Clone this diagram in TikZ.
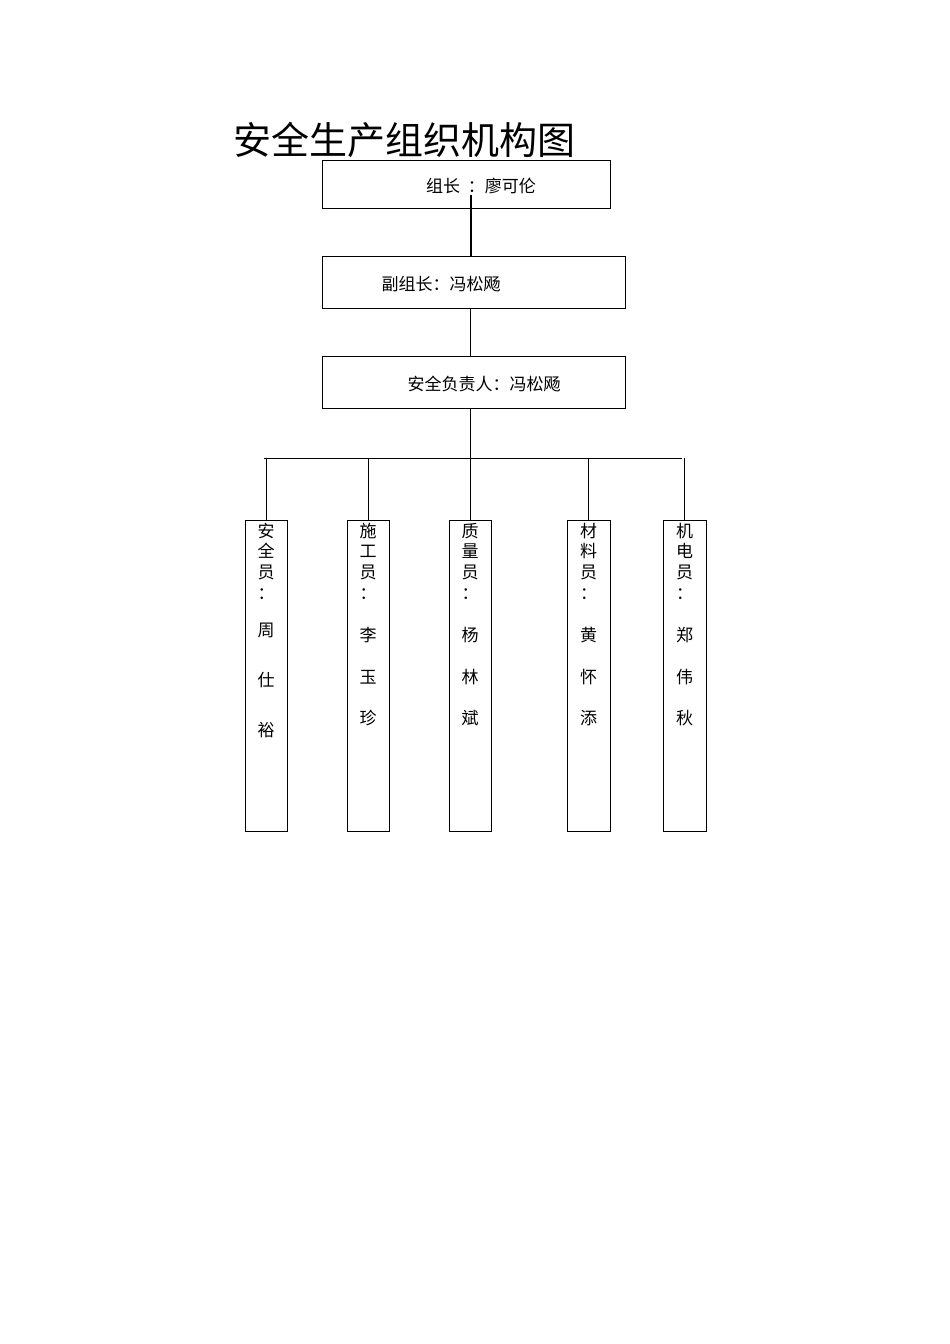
\documentclass[tikz,border=0pt]{standalone}
\usepackage{fontspec}
\newfontfamily\cjk{Noto Sans CJK SC}
\tikzset{box/.style={draw,line width=1pt,inner sep=0pt},
 vtxt/.style={font=\cjk\fontsize{17}{17}\selectfont,inner sep=0pt},
 ln/.style={line width=0.8pt}}
\begin{document}
\begin{tikzpicture}[x=1pt,y=-1pt]
\useasboundingbox (0,0) rectangle (950,1344);
\node[font=\cjk\fontsize{38}{38}\selectfont,anchor=west] (title) at (230,140) {安全生产组织机构图};
\node[box,minimum width=288pt,minimum height=48pt] (b1) at (466,184) {};
\node[font=\cjk\fontsize{17}{17}\selectfont] (t1) at (481,186) {组长\ \ ：廖可伦};
\node[box,minimum width=303pt,minimum height=52pt] (b2) at (473.5,282) {};
\node[font=\cjk\fontsize{17}{17}\selectfont] (t2) at (441,284) {副组长：冯松飏};
\node[box,minimum width=303pt,minimum height=52pt] (b3) at (473.5,382) {};
\node[font=\cjk\fontsize{17}{17}\selectfont] (t3) at (484,384) {安全负责人：冯松飏};
\draw[line width=1.5pt] (471,195) -- (471,256);
\draw[ln] (470,308) -- (470,356);
\draw[ln] (470,408) -- (470,458);
\coordinate (hl) at (264,458); \coordinate (hr) at (682,458);
\draw[ln] (hl) -- (hr);
\foreach \n/\x/\w/\a/\b/\c/\d/\e/\f/\p in {
 s1/266/42/安/全/员/周/仕/裕/1,
 s2/368/42/施/工/员/李/玉/珍/0,
 s3/470/42/质/量/员/杨/林/斌/0,
 s4/588.5/43/材/料/员/黄/怀/添/0,
 s5/684.5/43/机/电/员/郑/伟/秋/0}{
 \node[box,minimum width=\w pt,minimum height=311pt] (\n) at (\x,675.5) {};
 \draw[ln] (\x,458) -- (\n.north);
 \node[vtxt] at (\x,531) {\a};
 \node[vtxt] at (\x,551) {\b};
 \node[vtxt] at (\x,572) {\c};
 \node[vtxt] at (\x,594) {：};
 \ifnum\p=1
 \node[vtxt] at (\x,630) {\d};
 \node[vtxt] at (\x,680) {\e};
 \node[vtxt] at (\x,730) {\f};
 \else
 \node[vtxt] at (\x,635) {\d};
 \node[vtxt] at (\x,677) {\e};
 \node[vtxt] at (\x,718) {\f};
 \fi
}
\end{tikzpicture}
\end{document}
